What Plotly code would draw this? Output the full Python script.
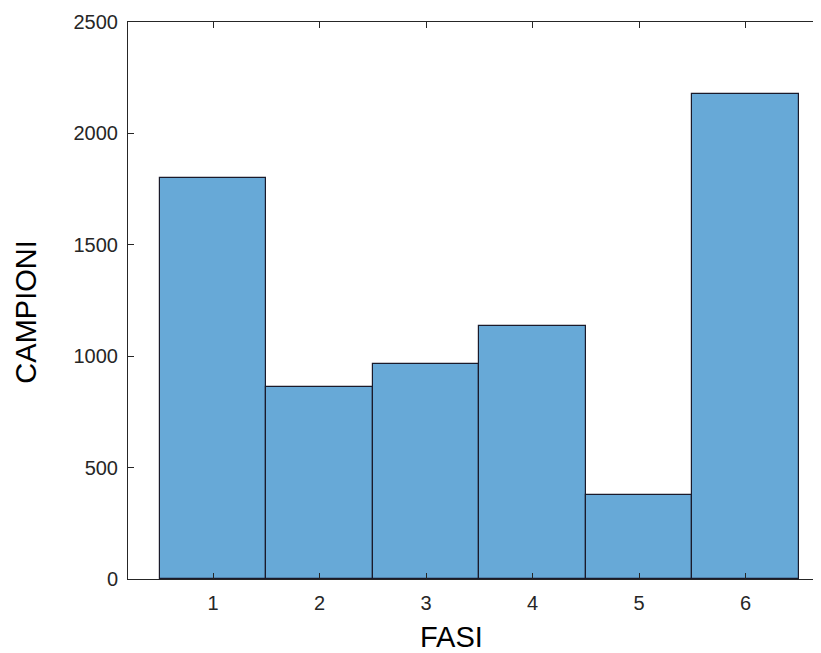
import plotly.graph_objects as go

fasi = [1, 2, 3, 4, 5, 6]
campioni = [1800, 862, 965, 1137, 375, 2175]
x_ticks = [1, 2, 3, 4, 5, 6]
y_ticks = [0, 500, 1000, 1500, 2000, 2500]

axis_color = "#262626"
font_family = "Liberation Sans, Arial, Helvetica, sans-serif"

fig = go.Figure(
    go.Bar(
        x=fasi,
        y=campioni,
        width=1,
        marker=dict(color="#67A9D7", line=dict(color="#1a1a2a", width=1.2)),
    )
)

# The page body has an 8px default margin, so the figure is sized to fit the window.
fig.update_layout(
    width=813,
    height=645,
    margin=dict(l=120, r=0, t=14, b=74),
    paper_bgcolor="white",
    plot_bgcolor="white",
    showlegend=False,
    bargap=0,
    font=dict(family=font_family, color=axis_color),
    annotations=[
        dict(text="FASI", xref="paper", yref="paper", x=0.4675, y=-0.104,
             xanchor="center", yanchor="middle", showarrow=False,
             font=dict(size=29, color="black", family=font_family)),
        dict(text="CAMPIONI", xref="paper", yref="paper", x=-0.1472, y=0.48,
             xanchor="center", yanchor="middle", textangle=-90, showarrow=False,
             font=dict(size=29, color="black", family=font_family)),
    ],
)

fig.update_xaxes(
    range=[0.2, 6.709],
    automargin=False,
    tickvals=x_ticks,
    ticktext=[str(v) for v in x_ticks],
    ticks="inside",
    ticklen=6,
    tickwidth=1,
    tickcolor=axis_color,
    ticklabelstandoff=6,
    showline=True,
    linecolor=axis_color,
    linewidth=1,
    mirror="ticks",
    showgrid=False,
    zeroline=False,
    tickfont=dict(size=20, color=axis_color),
)

fig.update_yaxes(
    range=[0, 2500],
    automargin=False,
    tickvals=y_ticks,
    ticks="inside",
    ticklen=6,
    tickwidth=1,
    tickcolor=axis_color,
    ticklabelstandoff=5,
    showline=True,
    linecolor=axis_color,
    linewidth=1,
    mirror=False,
    showgrid=False,
    zeroline=False,
    tickfont=dict(size=20, color=axis_color),
)

fig.write_html("out.html")
